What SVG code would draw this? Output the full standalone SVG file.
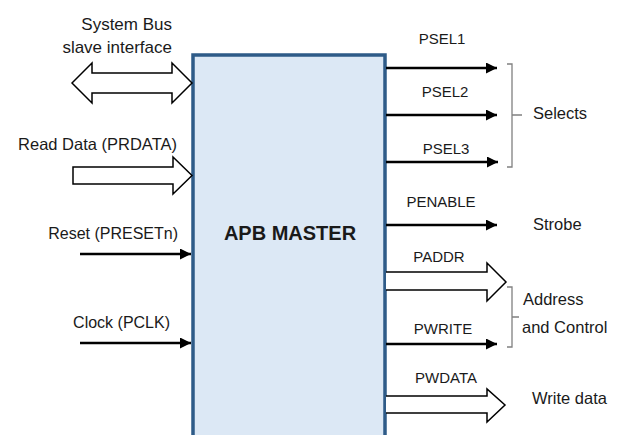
<svg xmlns="http://www.w3.org/2000/svg" width="629" height="435" viewBox="0 0 629 435">
<defs>
<style>
text{font-family:"Liberation Sans",Arial,sans-serif;font-size:16px;fill:#1a1a1a}
.t{text-anchor:middle}
.e{text-anchor:end}
.s{text-anchor:start}
.w{stroke:#000;stroke-width:2.5;fill:none}
.h{stroke:#000;stroke-width:1.5;fill:#fff;stroke-linejoin:miter}
.br{stroke:#808080;stroke-width:1.3;fill:none}
</style>
<marker id="ah" viewBox="0 0 10 10" refX="10" refY="5" markerWidth="4.4" markerHeight="4.4" markerUnits="strokeWidth" orient="auto">
<path d="M0,0 L10,5 L0,10 z" fill="#000"/>
</marker>
</defs>
<rect width="629" height="435" fill="#fff"/>
<g id="apb-master">
<rect x="193" y="55" width="192" height="390" fill="#dce8f5" stroke="#2e5b88" stroke-width="3.5"/>
<text x="290" y="240" class="t" style="font-weight:bold;font-size:20px">APB MASTER</text>
</g>
<g id="labels-left">
<text x="172" y="30" class="e" style="font-size:17px">System Bus</text>
<text x="172" y="53" class="e" style="font-size:17px">slave interface</text>
<text x="177" y="150" class="e" style="font-size:16.5px">Read Data (PRDATA)</text>
<text x="178" y="239" class="e" style="font-size:16px">Reset (PRESETn)</text>
<text x="170" y="328" class="e" style="font-size:16px">Clock (PCLK)</text>
</g>
<g id="labels-right">
<text x="442" y="44" class="t" style="font-size:15px">PSEL1</text>
<text x="445" y="97" class="t" style="font-size:15px">PSEL2</text>
<text x="446" y="154" class="t" style="font-size:15px">PSEL3</text>
<text x="441" y="207" class="t" style="font-size:15px">PENABLE</text>
<text x="439" y="262" class="t" style="font-size:15px">PADDR</text>
<text x="443" y="334" class="t" style="font-size:15px">PWRITE</text>
<text x="446" y="383" class="t" style="font-size:15px">PWDATA</text>
<text x="533" y="119" class="s" style="font-size:16.5px">Selects</text>
<text x="533" y="230" class="s" style="font-size:16.5px">Strobe</text>
<text x="523" y="305" class="s" style="font-size:16.5px">Address</text>
<text x="522" y="333" class="s" style="font-size:16.5px">and Control</text>
<text x="532" y="404" class="s" style="font-size:16.5px">Write data</text>
</g>
<g id="connectors">
<path class="h" d="M72,83 L92,63 L92,73 L172,73 L172,63 L192,83 L172,103 L172,93 L92,93 L92,103 Z"/>
<path class="h" d="M73,167 L173,167 L173,157 L192,175.5 L173,194 L173,184 L73,184 Z"/>
<line class="w" x1="80" y1="254" x2="191" y2="254" marker-end="url(#ah)"/>
<line class="w" x1="80" y1="343" x2="191" y2="343" marker-end="url(#ah)"/>
<line class="w" x1="386" y1="68" x2="497" y2="68" marker-end="url(#ah)"/>
<line class="w" x1="386" y1="115" x2="497" y2="115" marker-end="url(#ah)"/>
<line class="w" x1="386" y1="162" x2="498" y2="162" marker-end="url(#ah)"/>
<line class="w" x1="386" y1="225" x2="497" y2="225" marker-end="url(#ah)"/>
<line class="w" x1="386" y1="344" x2="497" y2="344" marker-end="url(#ah)"/>
<path class="h" d="M386,272 L487,272 L487,263 L506,282 L487,301 L487,290 L386,290"/>
<path class="h" d="M386,396 L487,396 L487,389 L505,405 L487,422 L487,413 L386,413"/>
<path class="br" d="M507,64 L512,64 L512,167 L507,167 M512,115 L522,115"/>
<path class="br" d="M507,287 L512,287 L512,347 L507,347 M512,317 L519,317"/>
</g>
</svg>
